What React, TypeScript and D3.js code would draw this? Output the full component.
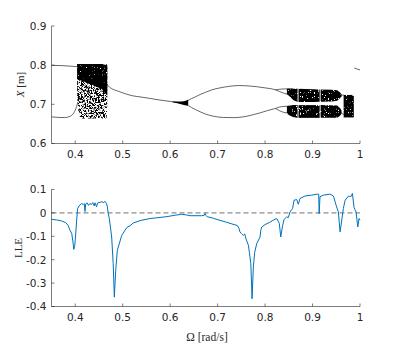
import React from 'react';
import * as d3 from 'd3';

type P = [number, number];
type B = [number, number, number];

// ticks
const xTicks = [0.4, 0.5, 0.6, 0.7, 0.8, 0.9, 1];
const xTickLabels = ['0.4', '0.5', '0.6', '0.7', '0.8', '0.9', '1'];
const topYTicks = [0.6, 0.7, 0.8, 0.9];
const topYTickLabels = ['0.6', '0.7', '0.8', '0.9'];
const botYTicks = [-0.4, -0.3, -0.2, -0.1, 0, 0.1];
const botYTickLabels = ['-0.4', '-0.3', '-0.2', '-0.1', '0', '0.1'];

// bifurcation diagram: periodic branches (omega, X)
const p1Upper: P[] = [[0.35, 0.7995], [0.37, 0.799], [0.39, 0.7975], [0.405, 0.796]];
const p1Lower: P[] = [[0.35, 0.668], [0.365, 0.6665], [0.378, 0.6662], [0.386, 0.668], [0.3925, 0.672],
  [0.397, 0.678], [0.4, 0.685], [0.403, 0.695], [0.4055, 0.706]];
const mainBranch: P[] = [[0.466, 0.753], [0.469, 0.748], [0.473, 0.743], [0.48, 0.738], [0.487, 0.735],
  [0.494, 0.732], [0.508, 0.726], [0.52, 0.722], [0.5365, 0.719], [0.558, 0.715], [0.578, 0.711],
  [0.6, 0.7075], [0.614, 0.705], [0.632, 0.7025]];
const p2Upper: P[] = [[0.632, 0.7045], [0.638, 0.71], [0.645, 0.7145], [0.653, 0.719], [0.663, 0.725],
  [0.675, 0.731], [0.688, 0.737], [0.705, 0.742], [0.725, 0.746], [0.744, 0.748], [0.765, 0.747],
  [0.7825, 0.745], [0.8, 0.742], [0.812, 0.74], [0.822, 0.737]];
const p2Lower: P[] = [[0.632, 0.7015], [0.638, 0.697], [0.645, 0.692], [0.653, 0.687], [0.663, 0.681],
  [0.675, 0.675], [0.69, 0.67], [0.712, 0.6665], [0.735, 0.666], [0.754, 0.668], [0.77, 0.672],
  [0.789, 0.678], [0.805, 0.684], [0.822, 0.6895]];
const p4UpperA: P[] = [[0.822, 0.737], [0.835, 0.739], [0.848, 0.7395], [0.858, 0.74]];
const p4UpperB: P[] = [[0.822, 0.737], [0.83, 0.733], [0.838, 0.729], [0.846, 0.726], [0.852, 0.724]];
const p4LowerA: P[] = [[0.822, 0.6895], [0.83, 0.693], [0.838, 0.6945], [0.846, 0.695], [0.852, 0.6955]];
const p4LowerB: P[] = [[0.822, 0.6895], [0.83, 0.684], [0.838, 0.68], [0.846, 0.678], [0.852, 0.676]];
const windowUpper: P[] = [[0.96, 0.723], [0.966, 0.724]];
const windowLower: P[] = [[0.96, 0.68], [0.966, 0.672]];
const tailBranch: P[] = [[0.988, 0.7925], [0.994, 0.79], [1.0, 0.788]];

// chaotic bands (omega, X low, X high)
const band1: B[] = [[0.404, 0.72, 0.803], [0.407, 0.675, 0.803], [0.41, 0.664, 0.803], [0.466, 0.664, 0.803], [0.4675, 0.7, 0.8]];
const band1Dense: B[] = [[0.404, 0.765, 0.803], [0.43, 0.752, 0.803], [0.455, 0.74, 0.803], [0.4675, 0.722, 0.8]];
const cusp: B[] = [[0.605, 0.7055, 0.7075], [0.615, 0.703, 0.7075], [0.623, 0.7005, 0.7075], [0.629, 0.698, 0.708],
  [0.634, 0.697, 0.71], [0.638, 0.697, 0.712]];
const upperBand1: B[] = [[0.846, 0.7265, 0.7395], [0.853, 0.719, 0.74], [0.86, 0.7105, 0.74], [0.8685, 0.706, 0.7395]];
const upperBand2: B[] = [[0.8705, 0.706, 0.7395], [0.9, 0.706, 0.7385], [0.915, 0.7065, 0.738]];
const upperBand3: B[] = [[0.917, 0.7065, 0.738], [0.94, 0.707, 0.737], [0.952, 0.709, 0.736], [0.958, 0.716, 0.73], [0.961, 0.72, 0.726]];
const lowerBand1: B[] = [[0.846, 0.676, 0.695], [0.853, 0.671, 0.697], [0.86, 0.667, 0.698], [0.8685, 0.6655, 0.698]];
const lowerBand2: B[] = [[0.8705, 0.6655, 0.698], [0.915, 0.6655, 0.698]];
const lowerBand3: B[] = [[0.917, 0.6655, 0.698], [0.952, 0.666, 0.697], [0.958, 0.671, 0.69], [0.961, 0.676, 0.684]];
const rightBlock: B[] = [[0.9655, 0.6665, 0.724], [0.987, 0.6665, 0.724]];

// largest Lyapunov exponent (omega, LLE)
const lle: P[] = [
  [0.35, -0.027], [0.36, -0.03], [0.371, -0.034], [0.38, -0.042], [0.385, -0.053], [0.389, -0.074],
  [0.3926, -0.088], [0.395, -0.12], [0.397, -0.156], [0.399, -0.14], [0.401, -0.09], [0.403, -0.031],
  [0.405, 0.018], [0.408, 0.03], [0.4136, 0.04], [0.417, 0.036], [0.419, 0.04], [0.4206, 0.006],
  [0.422, 0.038], [0.425, 0.043], [0.428, 0.032], [0.431, 0.04], [0.434, 0.036], [0.437, 0.044],
  [0.44, 0.03], [0.4417, 0.043], [0.445, 0.026], [0.447, 0.042], [0.452, 0.045], [0.456, 0.048],
  [0.459, 0.044], [0.4627, 0.049], [0.466, 0.04], [0.4676, 0.026], [0.4697, -0.003], [0.4718, -0.024],
  [0.4768, -0.103], [0.48, -0.217], [0.4824, -0.36], [0.4853, -0.246], [0.4887, -0.16], [0.498, -0.096],
  [0.5085, -0.063], [0.5154, -0.055], [0.5224, -0.043], [0.5365, -0.033], [0.5576, -0.024], [0.5717, -0.021],
  [0.593, -0.016], [0.61, -0.01], [0.624, -0.006], [0.635, -0.009], [0.642, -0.012], [0.666, -0.012],
  [0.672, -0.01], [0.6735, -0.002], [0.675, -0.01], [0.678, -0.016], [0.691, -0.023], [0.705, -0.032],
  [0.719, -0.04], [0.73, -0.047], [0.7416, -0.054], [0.745, -0.066], [0.747, -0.081], [0.75, -0.088],
  [0.754, -0.096], [0.757, -0.09], [0.76, -0.112], [0.7648, -0.138], [0.767, -0.17], [0.77, -0.217],
  [0.7726, -0.367], [0.7753, -0.231], [0.778, -0.17], [0.7824, -0.131], [0.7894, -0.103], [0.791, -0.074],
  [0.793, -0.06], [0.8, -0.05], [0.81, -0.04], [0.8174, -0.031], [0.8246, -0.024], [0.83, -0.045],
  [0.833, -0.103], [0.8364, -0.06], [0.84, -0.028], [0.8456, -0.017], [0.849, -0.02], [0.8526, 0.004],
  [0.858, 0.019], [0.861, 0.054], [0.8668, 0.057], [0.87, 0.037], [0.8737, 0.062], [0.884, 0.072],
  [0.898, 0.076], [0.91, 0.08], [0.913, 0.08], [0.914, -0.003], [0.9157, 0.069], [0.9228, 0.076],
  [0.937, 0.08], [0.944, 0.072], [0.9496, 0.033], [0.9544, 0.004], [0.958, -0.081], [0.9616, -0.031],
  [0.965, 0.019], [0.9686, 0.054], [0.9757, 0.072], [0.9806, 0.069], [0.984, 0.083], [0.9875, 0.023],
  [0.9917, 0.004], [0.9953, -0.06], [0.998, -0.024], [1.0, -0.031],
];

const axisColor = '#262626';
const tickFont = '"DejaVu Sans", sans-serif';
const labelFont = '"Liberation Serif", serif';

export default function App() {
  const x = d3.scaleLinear().domain([0.35, 1]).range([51.5, 360]);
  const yTop = d3.scaleLinear().domain([0.6, 0.9]).range([143.5, 26]);
  const yBot = d3.scaleLinear().domain([-0.4, 0.1]).range([306.5, 189.5]);

  const branch = d3.line<P>().x(d => x(d[0])).y(d => yTop(d[1])).curve(d3.curveMonotoneX);
  const band = d3.area<B>().x(d => x(d[0])).y0(d => yTop(d[1])).y1(d => yTop(d[2]));
  const lleLine = d3.line<P>().x(d => x(d[0])).y(d => yBot(d[1]));

  const branches = [p1Upper, p1Lower, mainBranch, p2Upper, p2Lower, p4UpperA, p4UpperB, p4LowerA, p4LowerB,
    windowUpper, windowLower, tailBranch];
  const denseBands = [band1Dense, upperBand1, upperBand2, upperBand3, lowerBand1, lowerBand2, lowerBand3, rightBlock];

  const axes = (y: d3.ScaleLinear<number, number>, ticks: number[], labels: string[], y0: number, y1: number) => (
    <g>
      <line x1={51.5} x2={51.5} y1={y1} y2={y0} stroke={axisColor} strokeWidth={0.6} />
      <line x1={51.5} x2={360} y1={y0} y2={y0} stroke={axisColor} strokeWidth={0.6} />
      {xTicks.map((t, i) => (
        <g key={'x' + i}>
          <line x1={x(t)} x2={x(t)} y1={y0} y2={y0 - 3} stroke={axisColor} strokeWidth={0.6} />
          <text x={x(t)} y={y0 + 14.5} textAnchor="middle" fontSize={10.5} fill={axisColor} fontFamily={tickFont}>{xTickLabels[i]}</text>
        </g>
      ))}
      {ticks.map((t, i) => (
        <g key={'y' + i}>
          <line x1={51.5} x2={54.5} y1={y(t)} y2={y(t)} stroke={axisColor} strokeWidth={0.6} />
          <text x={46.5} y={y(t) + 3.8} textAnchor="end" fontSize={10.5} fill={axisColor} fontFamily={tickFont}>{labels[i]}</text>
        </g>
      ))}
    </g>
  );

  return (
    <svg width={398} height={345} style={{ position: 'absolute', left: 0, top: 0, background: '#fff' }}>
      <defs>
        <filter id="sparse" x="0" y="0" width="1" height="1">
          <feTurbulence type="fractalNoise" baseFrequency="1.4 0.55" numOctaves={2} seed={4} result="n" />
          <feColorMatrix in="n" type="matrix" values="0 0 0 0 0  0 0 0 0 0  0 0 0 0 0  10 0 0 0 -4.6" result="m" />
          <feComposite in="SourceGraphic" in2="m" operator="in" />
        </filter>
        <filter id="dense" x="0" y="0" width="1" height="1">
          <feTurbulence type="fractalNoise" baseFrequency="1.5 0.6" numOctaves={2} seed={9} result="n" />
          <feColorMatrix in="n" type="matrix" values="0 0 0 0 0  0 0 0 0 0  0 0 0 0 0  10 0 0 0 -2.6" result="m" />
          <feComposite in="SourceGraphic" in2="m" operator="in" />
        </filter>
      </defs>

      {/* top: bifurcation diagram */}
      <path d={band(band1) ?? ''} fill="#000" filter="url(#sparse)" />
      {denseBands.map((b, i) => (
        <path key={i} d={band(b) ?? ''} fill="#000" filter="url(#dense)" />
      ))}
      <path d={band(cusp) ?? ''} fill="#000" />
      {branches.map((b, i) => (
        <path key={i} d={branch(b) ?? ''} fill="none" stroke="#000" strokeWidth={0.6} />
      ))}
      {axes(yTop, topYTicks, topYTickLabels, 143.5, 26)}
      <text transform="translate(23.5,84.5) rotate(-90)" textAnchor="middle" fontSize={11} fill={axisColor} fontFamily={labelFont}>
        <tspan fontStyle="italic">X</tspan> [m]
      </text>

      {/* bottom: LLE */}
      <line x1={51.5} x2={360} y1={yBot(0)} y2={yBot(0)} stroke="#8c8c8c" strokeWidth={1.2} strokeDasharray="5,3" />
      <path d={lleLine(lle) ?? ''} fill="none" stroke="#0072bd" strokeWidth={1} strokeLinejoin="round" />
      {axes(yBot, botYTicks, botYTickLabels, 306.5, 189.5)}
      <text transform="translate(21.5,248) rotate(-90)" textAnchor="middle" fontSize={11} fill={axisColor} fontFamily={labelFont}>LLE</text>
      <text x={207} y={340.5} textAnchor="middle" fontSize={11.5} fill={axisColor} fontFamily={labelFont}>Ω [rad/s]</text>
    </svg>
  );
}
